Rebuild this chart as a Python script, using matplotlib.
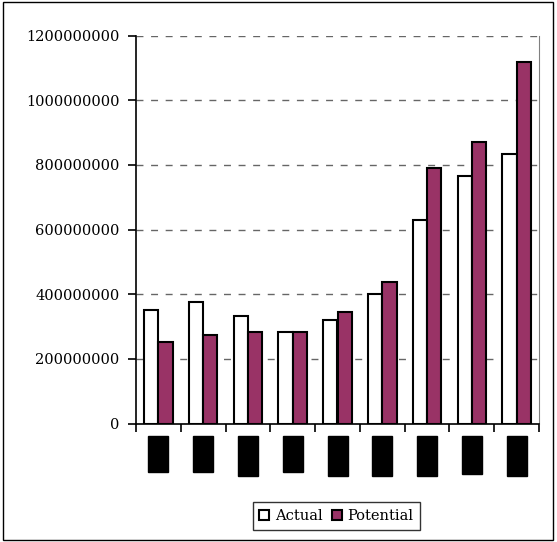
import matplotlib
matplotlib.use("Agg")
import matplotlib.pyplot as plt
from matplotlib.patches import Patch, Rectangle
import numpy as np

categories = ["1", "2", "3", "4", "5", "6", "7", "8", "9"]
actual = [350e6, 375e6, 333e6, 282e6, 320e6, 402e6, 631e6, 766e6, 834e6]
potential = [251e6, 275e6, 282e6, 282e6, 344e6, 438e6, 790e6, 870e6, 1118e6]
yticks = [0, 200000000, 400000000, 600000000, 800000000, 1000000000, 1200000000]
block_heights = [36, 36, 40, 36, 40, 40, 40, 38, 40]

W, H = 557, 542
fig = plt.figure(figsize=(W / 100, H / 100), dpi=100)
fig.patch.set_facecolor("white")
fig.add_artist(Rectangle((3 / W, 2 / H), (553 - 3) / W, (540 - 2) / H,
                         transform=fig.transFigure, fill=False, edgecolor="black", lw=1.0))

ax = fig.add_axes([136 / W, 1 - 423.5 / H, (539 - 136) / W, (423.5 - 35.7) / H])
x = np.arange(len(categories))
bw = 0.32
purple = "#993366"
ax.bar(x - bw / 2, actual, bw, color="white", edgecolor="black", lw=1.5, zorder=3)
ax.bar(x + bw / 2, potential, bw, color=purple, edgecolor="black", lw=1.5, zorder=3)

ax.set_xlim(-0.5, len(categories) - 0.5)
ax.set_ylim(0, 1200000000)
ax.set_yticks(yticks)
ax.set_yticklabels([str(v) for v in yticks], fontfamily="DejaVu Serif", fontsize=10.5)
ax.yaxis.grid(True, linestyle=(0, (5, 5.5)), color="#666666", lw=1.0, zorder=0)
ax.set_axisbelow(True)
ax.set_xticks(np.arange(len(categories) + 1) - 0.5)
ax.set_xticklabels([])
ax.tick_params(axis="both", direction="out", length=6, width=1.2, color="black")
ax.tick_params(axis="y", pad=6)
ax.spines["top"].set_visible(False)
ax.spines["right"].set_color("#808080")
ax.spines["left"].set_linewidth(1.2)
ax.spines["bottom"].set_linewidth(1.2)

# category labels (rendered as solid black blocks, as in the reference)
for xi, lab, bh in zip(x, categories, block_heights):
    cx = ax.transData.transform((xi, 0))[0]
    left = (cx - 10) / W
    top = 1 - 435.5 / H
    fig.add_artist(Rectangle((left, top - bh / H), 20 / W, bh / H,
                             transform=fig.transFigure, color="black"))
    fig.text(cx / W, top - bh / (2 * H), lab, ha="center", va="center",
             color="black", fontsize=8, rotation=90)

handles = [Patch(facecolor="white", edgecolor="black", lw=1.5, label="Actual"),
           Patch(facecolor=purple, edgecolor="black", lw=1.5, label="Potential")]
leg = fig.legend(handles=handles, loc="center", bbox_to_anchor=(336.5 / W, 1 - 516 / H),
                 ncol=2, frameon=True, fancybox=False, edgecolor="black",
                 prop={"family": "DejaVu Serif", "size": 10.5},
                 handlelength=0.7, handleheight=0.7, handletextpad=0.4,
                 columnspacing=0.6, borderpad=0.45)
leg.get_frame().set_linewidth(1.0)

fig.savefig("out.png", dpi=100, facecolor="white")
